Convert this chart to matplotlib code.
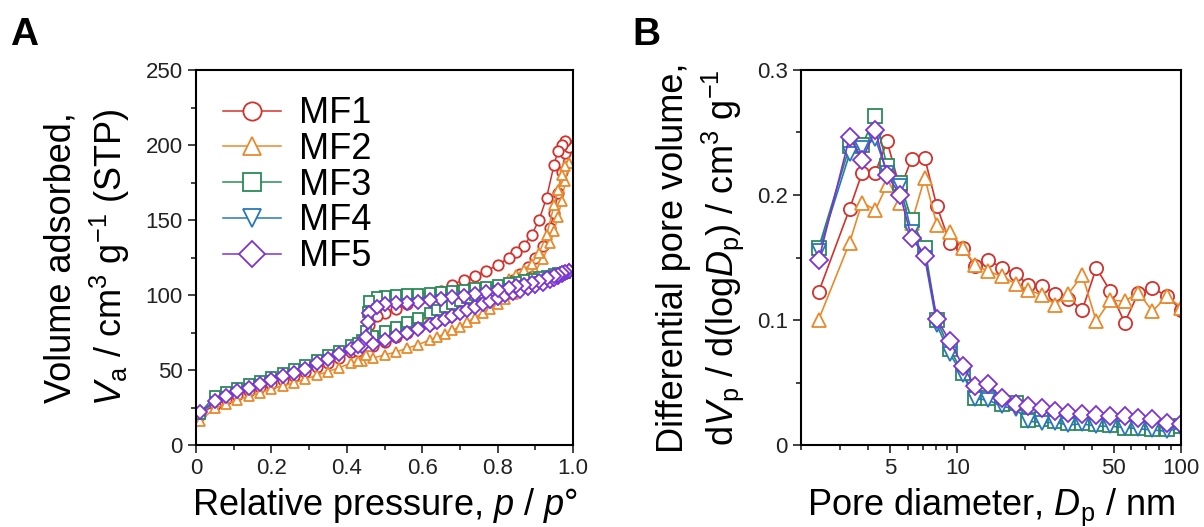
import numpy as np
import matplotlib
matplotlib.use("Agg")
import matplotlib.pyplot as plt
from matplotlib.ticker import MultipleLocator, FixedLocator, NullFormatter

plt.rcParams['font.family'] = ['Liberation Sans', 'DejaVu Sans']
plt.rcParams['mathtext.fontset'] = 'custom'
plt.rcParams['mathtext.rm'] = 'Liberation Sans'
plt.rcParams['mathtext.it'] = 'Liberation Sans:italic'
plt.rcParams['mathtext.bf'] = 'Liberation Sans:bold'

samples = ['MF1', 'MF2', 'MF3', 'MF4', 'MF5']
colors = ['#d3312b', '#e88a2c', '#2a8a58', '#2878b8', '#7a33d4']
markers = ['o', '^', 's', 'v', 'D']

# --- A: N2 isotherms (adsorption + desorption) ---
p_ads = [0.01, 0.05, 0.08, 0.11, 0.14, 0.17, 0.20, 0.23, 0.26, 0.29, 0.32, 0.35, 0.38, 0.41,
         0.44, 0.47, 0.50, 0.53, 0.56, 0.59, 0.62, 0.64, 0.66, 0.68, 0.70, 0.72, 0.74, 0.76,
         0.78, 0.80, 0.82, 0.84, 0.86, 0.88, 0.90, 0.92, 0.94, 0.95, 0.96, 0.97, 0.98, 0.99]
p_des = [0.99, 0.98, 0.97, 0.96, 0.95, 0.93, 0.91, 0.89, 0.87, 0.85, 0.83, 0.80, 0.77, 0.74,
         0.71, 0.68, 0.65, 0.62, 0.59, 0.56, 0.53, 0.50, 0.48, 0.46, 0.455, 0.45, 0.43]

mf1_ads = [20, 27, 30.5, 33.5, 36, 38.5, 41, 43.5, 46, 49, 52, 55, 58, 62,
           64, 66, 69, 72, 75, 78, 81, 83, 85, 87, 89.5, 92, 94.5, 97,
           100, 103, 106.5, 110, 114, 119, 125, 133, 145, 155, 168, 182, 195, 200]
mf2_ads = [16, 24.5, 27.5, 30, 32.5, 35, 37.5, 39.5, 41.5, 44, 46.5, 49, 51.5, 54.5,
           56, 58, 60, 62, 64.5, 67, 70, 72, 74, 76.5, 79, 82, 85, 88,
           91, 94, 97.5, 101, 105, 110, 116, 124, 135, 143, 152, 163, 176, 188]
mf3_ads = [21, 33, 35.5, 38, 40.5, 43, 45.5, 48, 50.5, 53.5, 57, 60, 63, 67,
           70, 73, 76, 79, 82, 85, 88, 90, 92, 94, 96, 98, 100, 101.5,
           103, 104.5, 105.5, 106.5, 107.5, 108.5, 109.5, 110.5, 111.5, 112.5, 113, 114, 115, 116]
mf4_ads = [21, 28.5, 32, 34.8, 37.3, 40, 42.5, 44.8, 47, 50, 53.5, 56.5, 59.5, 63,
           65, 66.5, 69, 71.5, 74, 76.5, 79, 81, 83, 85, 87, 89, 91, 93,
           95, 97, 99, 100.5, 102, 103.5, 105, 106.5, 108.5, 109.5, 111, 112.5, 114, 115]
mf5_ads = [22, 29.5, 33, 35.8, 38.3, 41, 43.5, 45.8, 48, 51, 54.5, 57.5, 60.5, 64,
           66, 67.5, 70, 72.5, 75, 77.5, 80, 82, 84, 86, 88, 90, 92, 94,
           96, 98, 100, 101.5, 103, 104.5, 106, 107.5, 109.5, 110.5, 112, 113.5, 115, 116]

mf1_des = [199, 203, 200, 196, 187, 165, 150, 140, 133, 129, 125, 120, 116, 113,
           110, 107, 103, 100, 97, 94, 91, 88, 86, 80, 72, 66, 63]
mf2_des = [188, 186, 180, 170, 160, 140, 128, 121, 117, 113.5, 111, 107, 103, 99,
           95, 91.5, 88, 85, 82.5, 80, 78, 76, 73, 71, 66, 60, 56]
mf3_des = [116, 115.5, 115, 114.5, 114, 113, 112, 111, 110, 109, 108, 106.5, 105.5, 104.5,
           103.5, 102.5, 102, 101.5, 101, 100.5, 100, 99.5, 99, 96, 89, 76, 68]
mf4_des = [115, 114.5, 113.5, 112.5, 112, 110.5, 108.5, 107, 106, 105, 104, 102.5, 101, 99.5,
           98.5, 97.5, 96.5, 95.5, 94.5, 94, 93.5, 93, 91, 87, 80, 71, 65]
mf5_des = [116, 115.5, 114.5, 113.5, 113, 111.5, 109.5, 108, 107, 106, 105, 103.5, 102, 100.5,
           99.5, 98.5, 97.5, 96.5, 95.5, 95, 94.5, 94, 92, 88, 82, 72, 66]

# --- B: BJH pore size distribution ---
d_pore = [2.4, 3.3, 3.75, 4.3, 4.85, 5.55, 6.25, 7.15, 8.1, 9.25, 10.6, 12.0, 13.7, 15.8,
          18.2, 20.8, 23.9, 27.4, 31.4, 36.2, 41.8, 48.3, 56.0, 64.5, 74.5, 86.5, 100.5]
mf1_psd = [0.1225, 0.189, 0.2175, 0.218, 0.243, 0.205, 0.229, 0.2295, 0.191, 0.162, 0.158,
           0.143, 0.148, 0.142, 0.137, 0.128, 0.1275, 0.121, 0.117, 0.108, 0.1417, 0.123,
           0.098, 0.1217, 0.1257, 0.119, 0.108]
mf2_psd = [0.1004, 0.162, 0.194, 0.188, 0.208, 0.194, 0.178, 0.214, 0.176, 0.17, 0.158,
           0.144, 0.139, 0.135, 0.129, 0.124, 0.12, 0.1124, 0.121, 0.136, 0.099, 0.116,
           0.115, 0.122, 0.107, 0.119, 0.11]
mf3_psd = [0.158, 0.239, 0.240, 0.263, 0.223, 0.21, 0.18, 0.158, 0.10, 0.0765, 0.058,
           0.038, 0.038, 0.0325, 0.034, 0.02, 0.021, 0.019, 0.018, 0.018, 0.017, 0.016,
           0.014, 0.014, 0.013, 0.013, 0.015]
mf4_psd = [0.155, 0.233, 0.238, 0.245, 0.218, 0.207, 0.17, 0.15, 0.096, 0.073, 0.056,
           0.037, 0.036, 0.031, 0.029, 0.019, 0.018, 0.018, 0.016, 0.017, 0.015, 0.015,
           0.014, 0.013, 0.012, 0.011, 0.014]
mf5_psd = [0.148, 0.2467, 0.228, 0.252, 0.216, 0.200, 0.1656, 0.1515, 0.101, 0.083, 0.063,
           0.047, 0.0485, 0.0379, 0.0325, 0.031, 0.03, 0.027, 0.0255, 0.025, 0.024, 0.0235,
           0.023, 0.022, 0.0205, 0.018, 0.017]

ads = [mf1_ads, mf2_ads, mf3_ads, mf4_ads, mf5_ads]
des = [mf1_des, mf2_des, mf3_des, mf4_des, mf5_des]
psd = [mf1_psd, mf2_psd, mf3_psd, mf4_psd, mf5_psd]

W, H = 1204, 527
fig = plt.figure(figsize=(W / 100, H / 100), dpi=100)
ax1 = fig.add_axes([196 / W, 1 - 445 / H, 377 / W, 375 / H])
ax2 = fig.add_axes([801 / W, 1 - 445 / H, 380 / W, 375 / H])

for i in range(5):
    p = list(p_ads) + list(p_des)
    v = list(ads[i]) + list(des[i])
    ax1.plot(p, v, color=colors[i], marker=markers[i], ms=7.5, mfc='white',
             mew=1.3, lw=1.1, label=samples[i])
    ax2.plot(d_pore, psd[i], color=colors[i], marker=markers[i], ms=9.5, mfc='white',
             mew=1.3, lw=1.2)

tick_fs = 16
lab_fs = 26

for ax in (ax1, ax2):
    for s in ax.spines.values():
        s.set_linewidth(1.5)
    ax.tick_params(which='both', direction='out', top=False, right=False,
                   labelsize=tick_fs, width=1.2, colors='#222222', labelcolor='#222222')
    ax.tick_params(which='major', length=6)
    ax.tick_params(which='minor', length=3.5)

ax1.set_xlim(0, 1.0)
ax1.set_ylim(0, 250)
ax1.xaxis.set_minor_locator(MultipleLocator(0.1))
ax1.yaxis.set_major_locator(MultipleLocator(50))
ax1.yaxis.set_minor_locator(MultipleLocator(25))
ax1.set_xticks([0, 0.2, 0.4, 0.6, 0.8, 1.0])
ax1.set_xticklabels(['0', '0.2', '0.4', '0.6', '0.8', '1.0'])
ax1.set_xlabel('Relative pressure, $p$ / $p$°', fontsize=lab_fs, labelpad=5)
ax1.set_ylabel('Volume adsorbed,\n$V_\\mathrm{a}$ / cm$^3$ g$^{-1}$ (STP)',
               fontsize=lab_fs, labelpad=10, linespacing=1.25)

ax1.legend(loc='upper left', bbox_to_anchor=(0.072, 0.93), frameon=False, fontsize=lab_fs,
           markerscale=1.75, handlelength=1.6, handletextpad=0.5, labelspacing=0.02,
           borderpad=0, borderaxespad=0)

ax2.set_xscale('log')
ax2.set_xlim(2, 100)
ax2.set_ylim(0, 0.3)
ax2.xaxis.set_major_locator(FixedLocator([5, 10, 50, 100]))
ax2.xaxis.set_minor_locator(FixedLocator([2, 3, 4, 6, 7, 8, 9, 20, 30, 40, 60, 70, 80, 90]))
ax2.xaxis.set_minor_formatter(NullFormatter())
ax2.set_xticklabels(['5', '10', '50', '100'])
ax2.yaxis.set_minor_locator(MultipleLocator(0.05))
ax2.set_yticks([0, 0.1, 0.2, 0.3])
ax2.set_yticklabels(['0', '0.1', '0.2', '0.3'])
ax2.set_xlabel('Pore diameter, $D_\\mathrm{p}$ / nm', fontsize=lab_fs, labelpad=5)
ax2.set_ylabel('Differential pore volume,\nd$V_\\mathrm{p}$ / d(log$D_\\mathrm{p}$) / cm$^3$ g$^{-1}$',
               fontsize=lab_fs, labelpad=8, linespacing=1.25)

fig.text(10 / W, 1 - 45 / H, 'A', fontsize=28, fontweight='bold')
fig.text(632 / W, 1 - 45 / H, 'B', fontsize=28, fontweight='bold')

fig.savefig('out.png', dpi=100)
